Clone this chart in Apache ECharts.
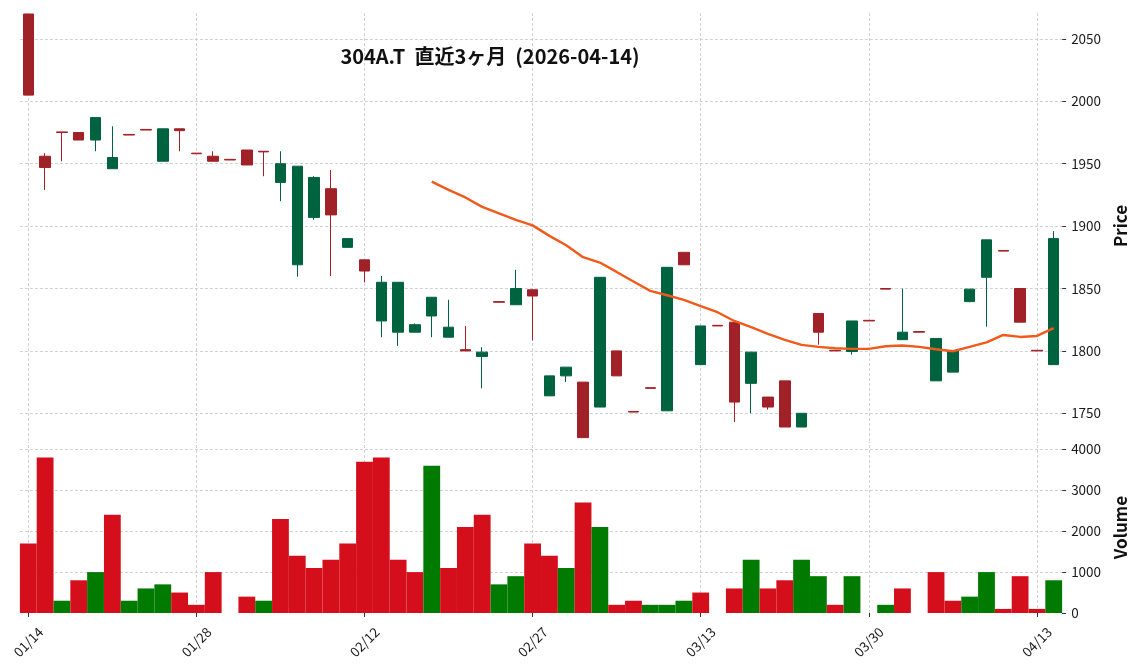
<!DOCTYPE html>
<html><head><meta charset="utf-8">
<script src="https://cdn.jsdelivr.net/npm/echarts@6/dist/echarts.min.js"></script>
<style>html,body{margin:0;padding:0;background:#fff}#c{width:1137px;height:670px}</style>
</head><body><div id="c"></div>
<script>
const dates = ['01/14','01/15','01/16','01/19','01/20','01/21','01/22','01/23','01/26','01/27',
  '01/28','01/29','01/30','02/02','02/03','02/04','02/05','02/06','02/09','02/10',
  '02/12','02/13','02/16','02/17','02/18','02/19','02/20','02/24','02/25','02/26',
  '02/27','03/02','03/03','03/04','03/05','03/06','03/09','03/10','03/11','03/12',
  '03/13','03/16','03/17','03/18','03/19','03/23','03/24','03/25','03/26','03/27',
  '03/30','03/31','04/01','04/02','04/03','04/06','04/07','04/08','04/09','04/10',
  '04/13','04/14'];
const opens = [2070,1956,1975.5,1975,1969,1946,1973.5,1977.5,1952,1978,
  1958.5,1956,1953.5,1961,1960,1935,1869,1907,1930,1883,
  1873,1824,1815,1815,1828,1811,1801,1795.5,1839.5,1837,
  1849,1764,1780,1775,1755,1800,1751.5,1770.5,1752,1879,
  1789,1820.5,1823,1774,1763,1776,1739,1830,1800.5,1799.5,
  1824.5,1850,1809,1815.5,1776,1783,1839.5,1859,1880.5,1850,
  1800.5,1789];
const closes = [2005,1947,1975,1969,1987,1955,1973,1977,1978,1976.5,
  1958,1952,1953,1949,1959.5,1950,1948,1939,1909,1890,
  1864,1855,1855,1821,1843,1819,1800,1799,1839,1850,
  1844,1780,1787,1730.5,1859,1780,1751,1770,1867,1869,
  1820,1820,1759,1799,1755,1739,1750,1815,1800,1824,
  1824,1849.5,1815,1815,1810,1800,1849.5,1889,1880,1823,
  1800,1890];
const lows = [2005,1929,1952,1969,1960,1946,1973,1977,1952,1960,
  1958,1952,1953,1949,1940,1920,1859.5,1905,1860,1883,
  1855,1811,1804,1815,1811,1811,1800,1770,1839,1837,
  1808.5,1764,1775,1730.5,1755,1780,1751,1770,1752,1869,
  1789,1820,1743,1750,1753,1739,1739,1805,1800,1797,
  1824,1849.5,1809,1815,1776,1783,1839,1819.5,1880,1823,
  1800,1789];
const highs = [2070,1958.5,1975.5,1975,1987,1980,1973.5,1977.5,1978,1978,
  1958.5,1960,1953.5,1961,1960,1960,1948,1940,1945,1890,
  1873,1860,1855,1822,1843,1841,1820,1803,1839.5,1865,
  1849,1780,1787,1775,1859,1800,1751.5,1770.5,1867,1879,
  1820,1820.5,1823,1799,1763,1776,1750,1830,1800.5,1824,
  1824.5,1850,1850,1815.5,1810,1800,1849.5,1889,1880.5,1850,
  1800.5,1896];
const volumes = [1700,3800,300,800,1000,2400,300,600,700,500,
  200,1000,0,400,300,2300,1400,1100,1300,1700,
  3700,3800,1300,1000,3600,1100,2100,2400,700,900,
  1700,1400,1100,2700,2100,200,300,200,200,300,
  500,0,600,1300,600,800,1300,900,200,900,
  0,200,600,0,1000,300,400,1000,100,900,
  100,800];
// 1 = up (green), 0 = down (red)
const volumeUp = [0,0,1,0,1,0,1,1,1,0,
  0,0,0,0,1,0,0,0,0,0,
  0,0,0,0,1,0,0,0,1,1,
  0,0,1,0,1,0,0,1,1,1,
  0,0,0,1,0,0,1,1,0,1,
  0,1,0,0,0,0,1,1,0,0,
  0,1];
const ma25 = [null,null,null,null,null,null,null,null,null,null,
  null,null,null,null,null,null,null,null,null,null,
  null,null,null,null,1935.6,1929,1923,1915.4,1910.3,1905,
  1900.6,1892.2,1884.7,1875.1,1870.8,1863.3,1855.6,1848.1,1844.6,1840.9,
  1835.8,1831,1824,1819,1813.6,1808.8,1804.8,1803.2,1802.1,1801.6,
  1801.6,1803.7,1804.3,1803.2,1801.3,1799.7,1803.2,1806.9,1812.8,1811.2,
  1812,1818.2];
const priceTicks = [1750,1800,1850,1900,1950,2000,2050];
const volumeTicks = [0,1000,2000,3000,4000];
const dateTicks = ['01/14','01/28','02/12','02/27','03/13','03/30','04/13'];
const titleText = '304A.T  直近3ヶ月  (2026-04-14)';

const FONT = '"Noto Sans CJK JP", "Noto Sans", sans-serif';
const UP = '#006340', DOWN = '#a02128';
const VUP = '#007a00', VDOWN = '#d40f1b';
const GRIDC = '#c6c6c6';

const candleData = dates.map((d, i) => [opens[i], closes[i], lows[i], highs[i]]);
const volData = volumes.map((v, i) => ({ value: v, itemStyle: { color: volumeUp[i] ? VUP : VDOWN } }));
const nulls = dates.map(() => null);

const gridMark = (items) => ({
  silent: true, z: 1, animation: false,
  symbol: ['none', 'none'],
  label: { show: false },
  emphasis: { disabled: true },
  lineStyle: { type: [3, 2], color: GRIDC, width: 0.8 },
  data: items
});

const tickLabel = { fontSize: 13.5, color: '#1a1a1a', fontFamily: FONT, formatter: (v) => String(v) };
const nameStyle = { fontSize: 17, fontWeight: 'bold', color: '#111', fontFamily: FONT };

const chart = echarts.init(document.getElementById('c'), null, { renderer: 'canvas' });
chart.setOption({
  animation: false,
  backgroundColor: '#fff',
  graphic: [{
    type: 'text', x: 490, y: 56, z: 100,
    style: { text: titleText, font: 'bold 20px "Noto Sans CJK JP"', fill: '#111', align: 'center', verticalAlign: 'middle' }
  }],
  grid: [
    { left: 19.9, width: 1043.7, top: 11, height: 430 },
    { left: 19.9, width: 1043.7, top: 442, height: 171 }
  ],
  xAxis: [
    { type: 'category', gridIndex: 0, data: dates, boundaryGap: true,
      axisLine: { show: false }, axisTick: { show: false }, axisLabel: { show: false }, splitLine: { show: false } },
    { type: 'category', gridIndex: 1, data: dates, boundaryGap: true,
      axisLine: { show: false },
      axisTick: { show: true, interval: 9, alignWithLabel: true, length: 4, lineStyle: { color: '#333', width: 1 } },
      axisLabel: { interval: 9, rotate: 45, align: 'center', verticalAlign: 'middle', margin: 29,
        fontSize: 13.5, color: '#1a1a1a', fontFamily: FONT },
      splitLine: { show: false } }
  ],
  yAxis: [
    { type: 'value', gridIndex: 0, position: 'right', min: 1727.8, max: 2072.4,
      axisLine: { show: false },
      axisTick: { show: true, length: 4, customValues: priceTicks, lineStyle: { color: '#333', width: 1 } },
      axisLabel: Object.assign({ customValues: priceTicks, margin: 9 }, tickLabel),
      splitLine: { show: false },
      name: 'Price', nameLocation: 'middle', nameRotate: 90, nameGap: 41, nameTextStyle: nameStyle },
    { type: 'value', gridIndex: 1, position: 'right', min: 0, max: 4180,
      axisLine: { show: false },
      axisTick: { show: true, length: 4, customValues: volumeTicks, lineStyle: { color: '#333', width: 1 } },
      axisLabel: Object.assign({ customValues: volumeTicks, margin: 9 }, tickLabel),
      splitLine: { show: false },
      name: 'Volume', nameLocation: 'middle', nameRotate: 90, nameGap: 41, nameTextStyle: nameStyle }
  ],
  series: [
    { type: 'line', xAxisIndex: 0, yAxisIndex: 0, data: nulls, silent: true, showSymbol: false, z: 1,
      markLine: gridMark(priceTicks.map(v => ({ yAxis: v })).concat(dateTicks.map(d => ({ xAxis: d })))) },
    { type: 'line', xAxisIndex: 1, yAxisIndex: 1, data: nulls, silent: true, showSymbol: false, z: 1,
      markLine: gridMark(volumeTicks.filter(v => v > 0).map(v => ({ yAxis: v })).concat(dateTicks.map(d => ({ xAxis: d })))) },
    { type: 'candlestick', xAxisIndex: 0, yAxisIndex: 0, data: candleData, barWidth: 11, z: 10,
      itemStyle: { color: UP, color0: DOWN, borderColor: UP, borderColor0: DOWN, borderWidth: 1 } },
    { type: 'line', xAxisIndex: 0, yAxisIndex: 0, data: ma25, showSymbol: false, z: 12,
      lineStyle: { color: '#f05a1b', width: 2.4 }, connectNulls: false },
    { type: 'bar', xAxisIndex: 1, yAxisIndex: 1, data: volData, barWidth: '100%', barCategoryGap: '0%', z: 10 }
  ]
});
</script>
</body></html>
